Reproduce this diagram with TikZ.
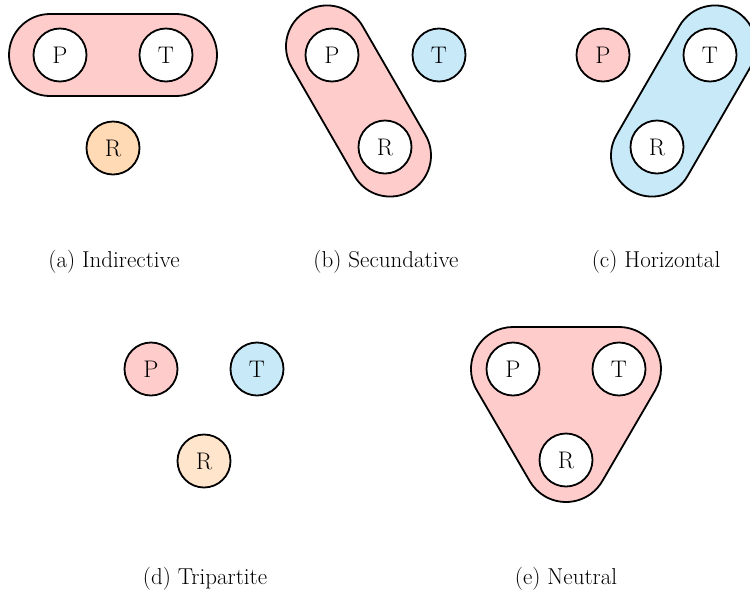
\documentclass[tikz,border=0pt]{standalone}
\usepackage{tikz}
\usetikzlibrary{calc,shapes.misc}
\definecolor{pinkfill}{HTML}{FFCCCC}
\definecolor{bluefill}{HTML}{C8E9F8}
\definecolor{orangefill}{HTML}{FFDAB4}
\definecolor{peachfill}{HTML}{FFE5CC}

\begin{document}
\begin{tikzpicture}[x=1pt, y=-1pt, line width=1.8pt,
  role/.style={draw, circle, fill=white, minimum size=53pt, inner sep=0pt, font=\fontsize{24}{26}\selectfont},
  pill/.style={draw, fill=#1, rounded rectangle, minimum width=208pt, minimum height=82pt, inner sep=0pt},
  caption/.style={anchor=base, font=\fontsize{23}{26}\selectfont}]
\useasboundingbox (0,0) rectangle (750,590);

% positions of the three roles in each panel
\coordinate (a-P) at (60,55);   \coordinate (a-T) at (166,55);  \coordinate (a-R) at (113,148);
\coordinate (b-P) at (332,55);  \coordinate (b-T) at (439,55);  \coordinate (b-R) at (385,147);
\coordinate (c-P) at (603,55);  \coordinate (c-T) at (710,55);  \coordinate (c-R) at (657,147);
\coordinate (d-P) at (151,369); \coordinate (d-T) at (257,369); \coordinate (d-R) at (204,461);
\coordinate (e-P) at (513,369); \coordinate (e-T) at (619,369); \coordinate (e-R) at (566,460);

% groupings
\node[pill=pinkfill] (aPT) at ($(a-P)!0.5!(a-T)$) {};
\node[pill=pinkfill, rotate=-60] (bPR) at ($(b-P)!0.5!(b-R)$) {};
\node[pill=bluefill, rotate=60] (cTR) at ($(c-T)!0.5!(c-R)$) {};
\draw[fill=pinkfill] ($(e-P)+(270:42)$) -- ($(e-T)+(270:42)$)
  arc[start angle=270, end angle=390.2, radius=42] -- ($(e-R)+(30.2:42)$)
  arc[start angle=30.2, end angle=149.8, radius=42] -- ($(e-P)+(149.8:42)$)
  arc[start angle=149.8, end angle=270, radius=42] -- cycle;

% (a) indirective
\node[role] (aP) at (a-P) {P};
\node[role] (aT) at (a-T) {T};
\node[role, fill=orangefill] (aR) at (a-R) {R};
\node[caption] (acap) at (114,267) {(a) Indirective};

% (b) secundative
\node[role] (bP) at (b-P) {P};
\node[role, fill=bluefill] (bT) at (b-T) {T};
\node[role] (bR) at (b-R) {R};
\node[caption] (bcap) at (386,267) {(b) Secundative};

% (c) horizontal
\node[role, fill=pinkfill] (cP) at (c-P) {P};
\node[role] (cT) at (c-T) {T};
\node[role] (cR) at (c-R) {R};
\node[caption] (ccap) at (656,267) {(c) Horizontal};

% (d) tripartite
\node[role, fill=pinkfill] (dP) at (d-P) {P};
\node[role, fill=bluefill] (dT) at (d-T) {T};
\node[role, fill=peachfill] (dR) at (d-R) {R};
\node[caption] (dcap) at (205,584) {(d) Tripartite};

% (e) neutral
\node[role] (eP) at (e-P) {P};
\node[role] (eT) at (e-T) {T};
\node[role] (eR) at (e-R) {R};
\node[caption] (ecap) at (566,584) {(e) Neutral};
\end{tikzpicture}
\end{document}
